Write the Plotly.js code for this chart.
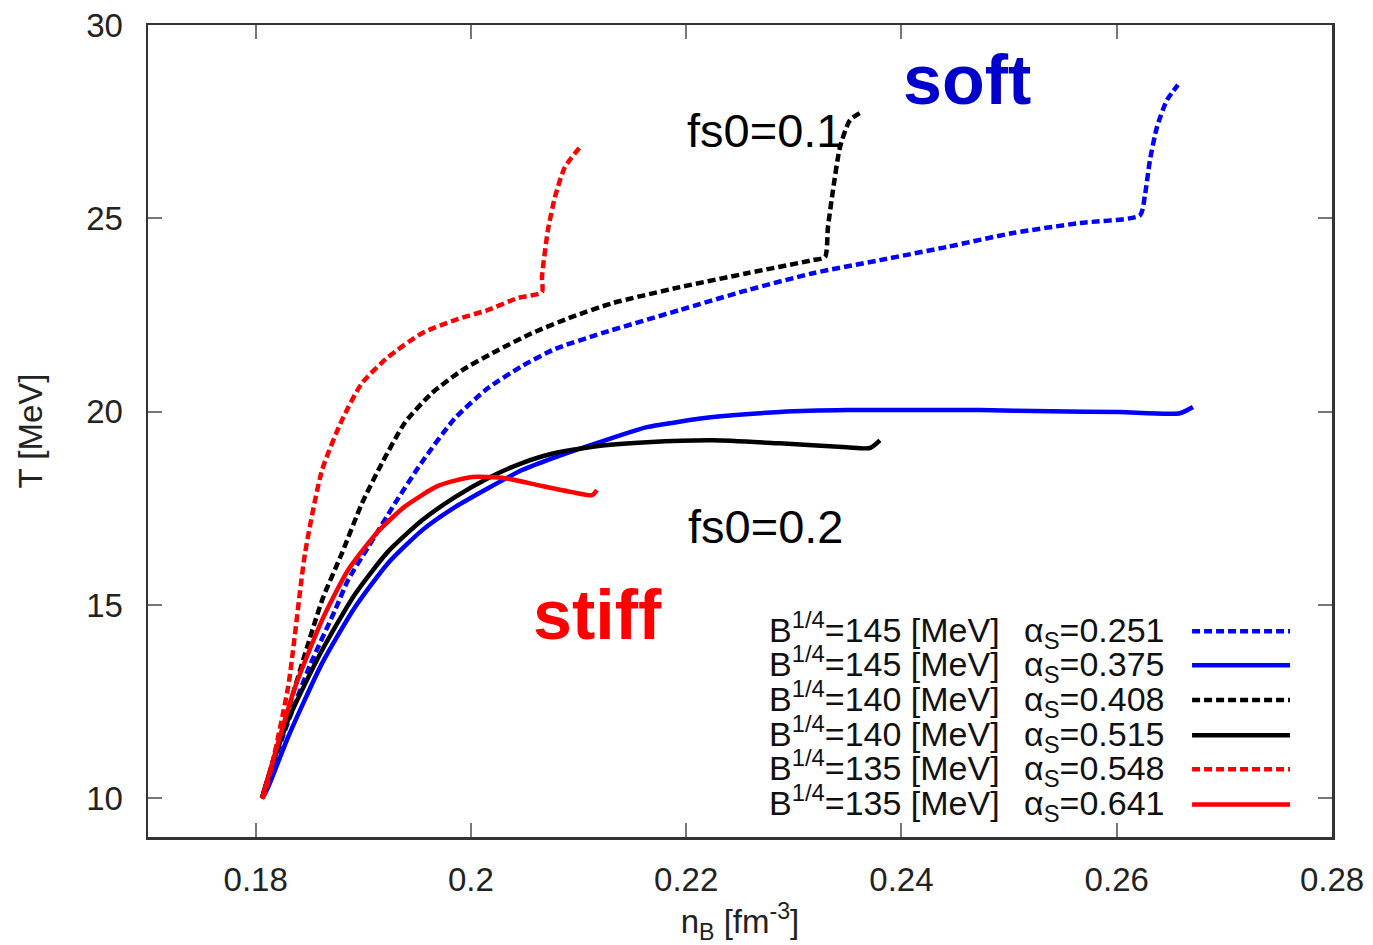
<!DOCTYPE html>
<html>
<head>
<meta charset="utf-8">
<script src="https://cdn.plot.ly/plotly-3.0.1.min.js"></script>
<style>
html,body{margin:0;padding:0;background:#fff;}
#chart{width:1373px;height:945px;}
</style>
</head>
<body>
<div id="chart"></div>
<script>
// ---- Data ----
// B^{1/4}=145 MeV, alpha_S=0.251 (blue dashed)
const nB_145_251 = [0.18059,0.18273,0.18505,0.18737,0.18858,0.19044,0.19295,0.19546,0.19852,0.20159,0.20475,0.20781,0.21218,0.21942,0.22565,0.23178,0.23800,0.24423,0.25036,0.25658,0.26216,0.26262,0.26309,0.26374,0.26467,0.26569];
const T_145_251  = [10.0,11.76,13.44,14.86,15.64,16.49,17.63,18.70,19.83,20.61,21.18,21.62,22.03,22.63,23.14,23.58,23.92,24.26,24.62,24.88,25.08,25.60,26.51,27.36,28.06,28.45];
// B^{1/4}=145 MeV, alpha_S=0.375 (blue solid)
const nB_145_375 = [0.18059,0.18115,0.18301,0.18617,0.18923,0.19230,0.19546,0.19852,0.20159,0.20475,0.20781,0.21246,0.21636,0.22249,0.22871,0.23494,0.24107,0.24730,0.25380,0.26030,0.26587,0.26708];
const T_145_375  = [10.0,10.28,11.58,13.49,14.94,16.08,16.93,17.53,18.02,18.49,18.82,19.26,19.60,19.86,19.99,20.04,20.04,20.04,20.01,19.99,19.96,20.12];
// B^{1/4}=140 MeV, alpha_S=0.408 (black dashed)
const nB_140_408 = [0.18059,0.18301,0.18617,0.18802,0.18988,0.19174,0.19388,0.19638,0.19917,0.20224,0.20567,0.20939,0.21320,0.21942,0.22565,0.23178,0.23290,0.23317,0.23364,0.23429,0.23522,0.23642];
const T_140_408  = [10.0,12.28,15.12,16.34,17.63,18.67,19.72,20.48,21.07,21.55,22.03,22.45,22.81,23.22,23.58,23.92,24.00,24.77,25.73,26.84,27.54,27.77];
// B^{1/4}=140 MeV, alpha_S=0.515 (black solid)
const nB_140_515 = [0.18059,0.18087,0.18301,0.18617,0.18923,0.19230,0.19546,0.19852,0.20159,0.20475,0.20781,0.21246,0.21636,0.22249,0.22871,0.23494,0.23707,0.23800];
const T_140_515  = [10.0,10.28,12.02,13.83,15.28,16.38,17.19,17.79,18.28,18.67,18.93,19.13,19.21,19.26,19.18,19.08,19.06,19.26];
// B^{1/4}=135 MeV, alpha_S=0.548 (red dashed)
const nB_135_548 = [0.18059,0.18087,0.18301,0.18459,0.18617,0.18802,0.18988,0.19230,0.19546,0.19852,0.20159,0.20437,0.20660,0.20660,0.20716,0.20781,0.20874,0.21032];
const T_135_548  = [10.0,10.13,12.87,16.34,18.49,19.78,20.74,21.41,22.03,22.37,22.63,22.94,23.09,23.48,24.70,25.55,26.33,26.90];
// B^{1/4}=135 MeV, alpha_S=0.641 (red solid)
const nB_135_641 = [0.18059,0.18180,0.18366,0.18617,0.18858,0.19137,0.19388,0.19694,0.20010,0.20317,0.20623,0.20939,0.21125,0.21171];
const T_135_641  = [10.0,11.16,12.87,14.61,15.90,16.90,17.55,18.08,18.31,18.28,18.10,17.92,17.84,17.97];

const bagValues = ['145','145','140','140','135','135'];
const alphaValues = ['0.251','0.375','0.408','0.515','0.548','0.641'];
const xTickVals = [0.18,0.20,0.22,0.24,0.26,0.28];
const xTickText = ['0.18','0.2','0.22','0.24','0.26','0.28'];
const yTickVals = [10,15,20,25,30];
const yTickText = ['10','15','20','25','30'];

// ---- Styles ----
const seriesX = [nB_145_251,nB_145_375,nB_140_408,nB_140_515,nB_135_548,nB_135_641];
const seriesY = [T_145_251,T_145_375,T_140_408,T_140_515,T_135_548,T_135_641];
const colors = ['#0000ff','#0000ff','#000000','#000000','#ff0000','#ff0000'];
const dashes = ['8px,4px','solid','8px,4px','solid','8px,4px','solid'];
const FONT = 'Liberation Sans, Arial, Helvetica, sans-serif';
const LW = 4.5;

const traces = seriesX.map((xs,i)=>({
  x: xs, y: seriesY[i], type:'scatter', mode:'lines',
  line:{color:colors[i], width:LW, dash:dashes[i], shape:'spline', smoothing:0.6},
  name:'B<sup>1/4</sup>='+bagValues[i]+' [MeV] α<sub>S</sub>='+alphaValues[i],
  showlegend:false, hoverinfo:'skip'
}));

// legend rows (custom: text left of the sample, as in the reference)
const legRowY = [14.32,13.44,12.54,11.63,10.75,9.84];
const legBagRightX = 0.24934;   // right edge of "B^{1/4}=... [MeV]" column
const legAlphaLeftX = 0.25120;  // left edge of "alpha_S=..." column
const legLineX0 = 0.26700, legLineX1 = 0.27610;
const annotations = [];
const shapes = [];
for (let i=0;i<6;i++){
  annotations.push({
    x: legBagRightX, y: legRowY[i], xref:'x', yref:'y', xanchor:'right', yanchor:'middle', yshift:4,
    showarrow:false,
    text:'B<sup>1/4</sup>='+bagValues[i]+' [MeV]',
    font:{family:FONT, size:34, color:'#111'}
  });
  annotations.push({
    x: legAlphaLeftX, y: legRowY[i], xref:'x', yref:'y', xanchor:'left', yanchor:'middle', yshift:-1,
    showarrow:false,
    text:'α<sub>S</sub>='+alphaValues[i],
    font:{family:FONT, size:34, color:'#111'}
  });
  shapes.push({
    type:'line', xref:'x', yref:'y', x0:legLineX0, x1:legLineX1, y0:legRowY[i], y1:legRowY[i],
    line:{color:colors[i], width:LW, dash:dashes[i]}
  });
}
annotations.push(
  {x:0.2461, y:28.58, xref:'x', yref:'y', text:'<b>soft</b>', showarrow:false, xanchor:'center', yanchor:'middle', font:{family:FONT, size:70, color:'#0000cc'}},
  {x:0.2118, y:14.74, xref:'x', yref:'y', text:'<b>stiff</b>', showarrow:false, xanchor:'center', yanchor:'middle', font:{family:FONT, size:70, color:'#ff0000'}},
  {x:0.2273, y:27.26, xref:'x', yref:'y', text:'fs0=0.1', showarrow:false, xanchor:'center', yanchor:'middle', font:{family:FONT, size:47, color:'#000'}},
  {x:0.2274, y:17.04, xref:'x', yref:'y', text:'fs0=0.2', showarrow:false, xanchor:'center', yanchor:'middle', font:{family:FONT, size:47, color:'#000'}}
);

const axisCommon = {
  showline:true, linecolor:'#333', linewidth:2.5, mirror:'allticks',
  ticks:'inside', ticklen:14, tickwidth:2, tickcolor:'#777',
  showgrid:false, zeroline:false, automargin:false,
  tickfont:{family:FONT, size:33, color:'#222'}
};

const layout = {
  width:1373, height:945,
  margin:{l:148, r:41, t:25, b:108},
  paper_bgcolor:'#fff', plot_bgcolor:'#fff',
  font:{family:FONT},
  showlegend:false,
  xaxis: Object.assign({}, axisCommon, {
    range:[0.17,0.28], tickmode:'array', tickvals:xTickVals, ticktext:xTickText,
    ticklabelstandoff:12,
    title:{text:'n<sub>B</sub> [fm<sup>-3</sup>]', font:{family:FONT, size:33, color:'#222'}, standoff:18}
  }),
  yaxis: Object.assign({}, axisCommon, {
    range:[9,30], tickmode:'array', tickvals:yTickVals, ticktext:yTickText,
    ticklabelstandoff:16,
    title:{text:'T [MeV]', font:{family:FONT, size:33, color:'#222'}, standoff:34}
  }),
  annotations: annotations,
  shapes: shapes
};

Plotly.newPlot('chart', traces, layout, {staticPlot:true, displayModeBar:false});
</script>
</body>
</html>
